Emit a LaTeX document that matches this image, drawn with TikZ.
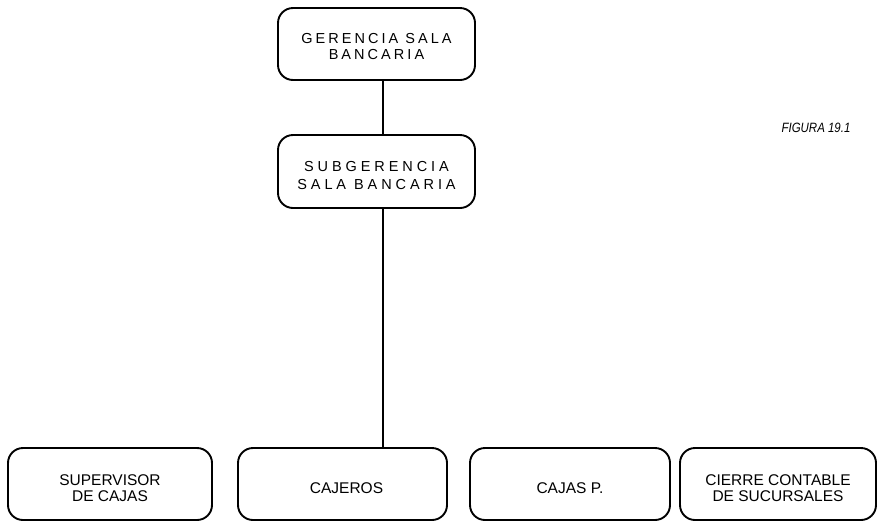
\documentclass[tikz,border=0pt]{standalone}
\usepackage{fontspec}
\setmainfont{Liberation Sans}
\newfontfamily\spacedfont[LetterSpace=21]{Liberation Sans}
\newfontfamily\widefont[LetterSpace=27]{Liberation Sans}
\newcommand{\lowered}[2]{\raisebox{-#1}[0pt][0pt]{#2}}
\begin{document}
\begin{tikzpicture}[x=1pt,y=-1pt,
  box/.style={draw=black, line width=1.9pt, rounded corners=15pt, rectangle,
    inner sep=0pt, align=center},
  topbox/.style={box, minimum width=197pt, minimum height=72pt},
  lowbox/.style={box, minimum height=72pt, font=\fontsize{15.5}{16}\selectfont},
  conn/.style={line width=1.9pt}]
\useasboundingbox (0,0) rectangle (877,523);
\node[topbox, font=\fontsize{14.5}{16}\spacedfont] (ger) at (376.5,44) {\lowered{8pt}{\begin{tabular}{@{}c@{}}GERENCIA SALA\\ BANCARIA\end{tabular}}};
\node[topbox, minimum height=73pt, font=\fontsize{14.5}{18}\widefont] (sub) at (376.5,171.5) {\lowered{9pt}{\begin{tabular}{@{}c@{}}SUBGERENCIA\\ SALA BANCARIA\end{tabular}}};
\node[lowbox, minimum width=204pt] (sup) at (110,484) {\lowered{10pt}{\begin{tabular}{@{}c@{}}SUPERVISOR\\ DE CAJAS\end{tabular}}};
\node[lowbox, minimum width=209pt] (caj) at (342.5,484) {\lowered{9.5pt}{\hspace*{8pt}CAJEROS}};
\node[lowbox, minimum width=200pt] (cajp) at (570,484) {\lowered{9.5pt}{CAJAS P.}};
\node[lowbox, minimum width=196pt] (cie) at (778,484) {\lowered{10pt}{\begin{tabular}{@{}c@{}}CIERRE CONTABLE\\ DE SUCURSALES\end{tabular}}};
\node[font=\fontsize{13.5}{14}\itshape, anchor=center] (fig) at (816,128) {\scalebox{0.85}[1]{FIGURA 19.1}};
\draw[conn] (ger.south -| 383,0) -- (sub.north -| 383,0);
\draw[conn] (sub.south -| 383,0) -- (caj.north -| 383,0);
\end{tikzpicture}
\end{document}
